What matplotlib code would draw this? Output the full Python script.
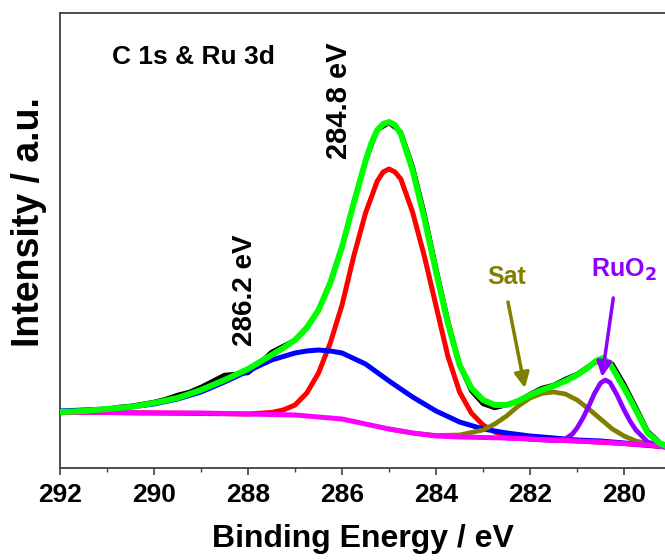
import matplotlib
matplotlib.use("Agg")
import matplotlib.pyplot as plt
from matplotlib import font_manager
from matplotlib.ticker import MultipleLocator

names = {f.name for f in font_manager.fontManager.ttflist}
font = "Liberation Sans Narrow" if "Liberation Sans Narrow" in names else "Liberation Sans"
plt.rcParams['font.family'] = [font, 'DejaVu Sans']
plt.rcParams['font.weight'] = 'bold'
plt.rcParams['lines.solid_joinstyle'] = 'round'
plt.rcParams['lines.solid_capstyle'] = 'round'

# raw spectrum (binding energy, eV / intensity, a.u.)
energy = [292, 291.75, 291.5, 291.25, 291, 290.75, 290.5, 290.25, 290, 289.75,
          289.5, 289.25, 289, 288.75, 288.5, 288.25, 288, 287.75, 287.5, 287.25,
          287, 286.75, 286.5, 286.25, 286, 285.75, 285.5, 285.25, 285, 284.75,
          284.5, 284.25, 284, 283.75, 283.5, 283.25, 283, 282.75, 282.5, 282.25,
          282, 281.75, 281.5, 281.25, 281, 280.75, 280.5, 280.25, 280, 279.75,
          279.5, 279.25]
raw = [55, 56, 56, 57, 59, 61, 62, 64, 66, 69,
       73, 76, 81, 87, 93, 94, 95, 105, 116, 122,
       128, 141, 158, 186, 222, 266, 307, 338, 345, 336,
       302, 255, 200, 148, 103, 77, 64, 60, 63, 67,
       74, 80, 83, 89, 94, 102, 108, 104, 84, 61,
       37, 26]

# fit envelope
env_e = [292, 291.5, 291, 290.5, 290, 289.5, 289, 288.5, 288, 287.5,
         287.25, 287, 286.75, 286.5, 286.25, 286, 285.75, 285.5, 285.375, 285.25,
         285.125, 285, 284.875, 284.75, 284.5, 284.25, 284, 283.75, 283.5, 283.25,
         283, 282.75, 282.5, 282.25, 282, 281.75, 281.5, 281.25, 281, 280.75,
         280.6, 280.45, 280.3, 280.15, 280, 279.75, 279.5, 279.25, 279.1]
envelope = [56, 57, 59, 61, 65, 70, 78, 88, 99, 113,
            120, 128, 140, 158, 185, 221, 265, 307, 325, 338,
            344, 346, 343, 334, 298, 250, 196, 145, 103, 80,
            68, 63, 63, 67, 73, 78, 82, 87, 93, 101,
            107, 110, 104, 92, 80, 58, 35, 25, 22]

# background
bg_e = [292, 291, 290, 289, 288, 287.5, 287, 286.5, 286, 285.5, 285, 284.5,
        284, 283.5, 283, 282.5, 282, 281.5, 281, 280.5, 280, 279.5, 279.1]
bg_h = [56, 55.5, 55, 55, 54, 53.5, 53, 51, 49, 44, 39, 35,
        32, 31, 30.5, 30, 29, 28, 27, 26, 24.5, 23, 21]

# C-C 284.8 eV
cc_e = [292, 290, 288, 287.5, 287.25, 287, 286.75, 286.5, 286.25, 286, 285.75,
        285.5, 285.25, 285.125, 285, 284.875, 284.75, 284.5, 284.25, 284, 283.75,
        283.5, 283.25, 283, 282.75, 282.5, 282, 281, 280, 279.1]
cc_h = [56, 55, 54, 55.5, 58, 63, 75, 95, 125, 163, 212,
        255, 287, 296, 299, 296, 289, 256, 212, 162, 112,
        76, 55, 43, 36, 32, 29, 27, 24.5, 21]

# C-O 286.2 eV
co_e = [292, 291.5, 291, 290.5, 290, 289.5, 289, 288.5, 288, 287.5, 287, 286.75,
        286.5, 286.25, 286, 285.5, 285, 284.5, 284, 283.5, 283, 282.5, 282, 281.5,
        281, 280.5, 280, 279.5, 279.1]
co_h = [57, 58, 59, 61, 64, 69, 76, 86, 97, 108, 115, 117,
        118, 117, 115, 104, 87, 71, 57, 46, 39, 35, 32, 30,
        28, 27, 25, 23, 21]

# satellite
sat_e = [285, 284.5, 284, 283.5, 283, 282.75, 282.5, 282.25, 282, 281.75, 281.5,
         281.25, 281, 280.75, 280.5, 280.25, 280, 279.75, 279.5, 279.1]
sat_h = [39, 35, 32.5, 33, 38, 44, 52, 62, 70, 74.5, 76,
         74, 68, 59, 49, 39, 32, 27, 24.5, 21.5]

# RuO2 3d5/2
ru_e = [282.5, 282, 281.75, 281.5, 281.25, 281.1, 281, 280.875, 280.75, 280.625,
        280.5, 280.4, 280.3, 280.15, 280, 279.875, 279.75, 279.5, 279.25, 279.1]
ru_h = [30, 29, 28, 27.5, 29, 34, 40, 50, 62, 75,
        85, 88, 85.5, 73, 58, 47, 38, 26, 22.5, 21]

fig = plt.figure(figsize=(6.65, 5.6), dpi=100)
ax = fig.add_axes([0.0902, 0.1643, 0.9098, 0.8125])

ax.plot(energy, raw, color='black', lw=3.2, zorder=2)
ax.plot(cc_e, cc_h, color='#ff0000', lw=3.6, zorder=3)
ax.plot(co_e, co_h, color='#0000ff', lw=3.6, zorder=3)
ax.plot(sat_e, sat_h, color='#808000', lw=3.4, zorder=3)
ax.plot(ru_e, ru_h, color='#8c00ff', lw=3.4, zorder=4)
ax.plot(bg_e, bg_h, color='#ff00ff', lw=3.6, zorder=4)
ax.plot(env_e, envelope, color='#00ff00', lw=4.3, zorder=5)

ax.set_xlim(292, 279.13)
ax.set_ylim(0, 455)

ax.xaxis.set_major_locator(MultipleLocator(2))
ax.xaxis.set_minor_locator(MultipleLocator(1))
ax.tick_params(axis='x', which='major', direction='out', length=5, width=1.2,
               labelsize=19, pad=6, color='#404040')
ax.tick_params(axis='x', which='minor', direction='out', length=3, width=1.0,
               color='#404040')
ax.set_yticks([])
for lab in ax.get_xticklabels():
    lab.set_fontweight('bold')

for s in ['left', 'bottom', 'top']:
    ax.spines[s].set_color('#404040')
    ax.spines[s].set_linewidth(1.3)
ax.spines['right'].set_visible(False)

ax.set_xlabel('Binding Energy / eV', fontsize=23, fontweight='bold', labelpad=12)
ax.set_ylabel('Intensity / a.u.', fontsize=27, fontweight='bold')
ax.yaxis.set_label_coords(-0.022, 0.54)

ax.text(290.89, 411, 'C 1s & Ru 3d', fontsize=19, fontweight='bold',
        ha='left', va='center')
ax.text(286.06, 367, '284.8 eV', fontsize=21, fontweight='bold',
        rotation=90, ha='center', va='center')
ax.text(288.06, 178, '286.2 eV', fontsize=20, fontweight='bold',
        rotation=90, ha='center', va='center')

ax.text(282.49, 191, 'Sat', fontsize=18, fontweight='bold', color='#808000',
        ha='center', va='center')
ax.annotate('', xy=(282.11, 80), xytext=(282.47, 166),
            arrowprops=dict(arrowstyle='-|>,head_length=0.9,head_width=0.45',
                            color='#808000', lw=2.5, shrinkA=0, shrinkB=0),
            zorder=6)
ax.text(280.0, 198, 'RuO$_\\mathbf{2}$', fontsize=18, fontweight='bold',
        color='#8c00ff', ha='center', va='center')
ax.annotate('', xy=(280.47, 91), xytext=(280.23, 170),
            arrowprops=dict(arrowstyle='-|>,head_length=0.9,head_width=0.45',
                            color='#8c00ff', lw=2.5, shrinkA=0, shrinkB=0),
            zorder=6)

fig.savefig('out.png', dpi=100)
